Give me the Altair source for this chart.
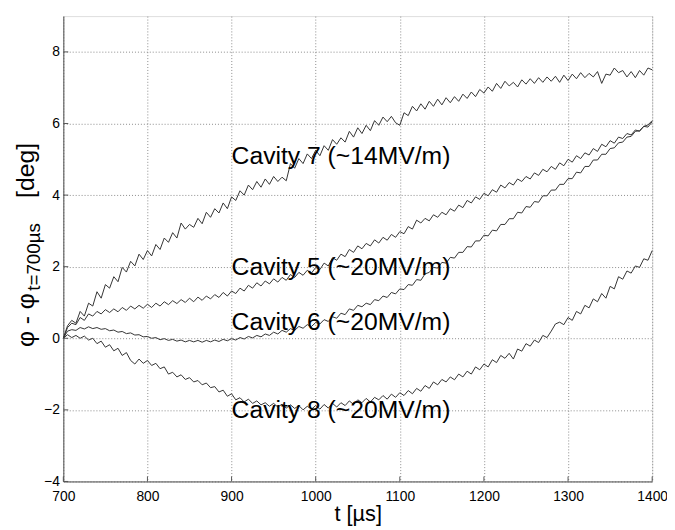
import altair as alt
import pandas as pd

# sample times [µs]
t_start, t_end, t_step = 700, 1400, 5

cav7 = [0.00, 0.35, 0.50, 0.42, 0.75, 0.62, 0.98, 0.90, 1.30, 1.12,
        1.50, 1.40, 1.72, 1.58, 1.98, 1.85, 2.15, 2.02, 2.35, 2.20,
        2.45, 2.30, 2.62, 2.48, 2.80, 2.68, 2.95, 2.80, 3.22, 3.05,
        3.18, 3.10, 3.35, 3.20, 3.52, 3.38, 3.62, 3.50, 3.78, 3.62,
        3.95, 3.85, 4.12, 4.00, 4.28, 4.15, 4.38, 4.22, 4.45, 4.30,
        4.52, 4.38, 4.50, 4.40, 4.88, 4.75, 5.02, 4.88, 5.15, 5.02,
        5.25, 5.10, 5.38, 5.25, 5.55, 5.42, 5.60, 5.48, 5.78, 5.62,
        5.88, 5.72, 5.95, 5.80, 6.08, 5.95, 6.18, 6.05, 6.20, 6.02,
        5.95, 6.30, 6.22, 6.48, 6.35, 6.55, 6.40, 6.62, 6.48, 6.68,
        6.52, 6.72, 6.58, 6.75, 6.62, 6.82, 6.70, 6.88, 6.75, 6.95,
        6.85, 7.02, 6.90, 7.12, 6.98, 7.18, 7.05, 7.15, 7.02, 7.22,
        7.10, 7.25, 7.12, 7.28, 7.15, 7.30, 7.18, 7.32, 7.15, 7.35,
        7.20, 7.38, 7.25, 7.42, 7.28, 7.40, 7.30, 7.45, 7.12, 7.38,
        7.35, 7.55, 7.42, 7.48, 7.30, 7.45, 7.28, 7.48, 7.35, 7.55,
        7.50]

cav5 = [0.00, 0.30, 0.42, 0.38, 0.58, 0.50, 0.68, 0.62, 0.75, 0.68,
        0.80, 0.72, 0.82, 0.74, 0.86, 0.78, 0.90, 0.82, 0.92, 0.84,
        0.95, 0.86, 0.98, 0.90, 1.02, 0.94, 1.05, 0.97, 1.08, 1.00,
        1.12, 1.02, 1.15, 1.06, 1.18, 1.10, 1.22, 1.14, 1.28, 1.18,
        1.32, 1.25, 1.40, 1.32, 1.48, 1.40, 1.55, 1.46, 1.60, 1.52,
        1.66, 1.57, 1.70, 1.62, 1.78, 1.70, 1.84, 1.76, 1.90, 1.82,
        1.98, 1.92, 2.10, 2.02, 2.25, 2.18, 2.35, 2.28, 2.48, 2.40,
        2.58, 2.50, 2.65, 2.58, 2.75, 2.66, 2.82, 2.74, 2.90, 2.82,
        2.98, 2.92, 3.12, 3.05, 3.30, 3.22, 3.35, 3.28, 3.45, 3.38,
        3.52, 3.45, 3.62, 3.55, 3.72, 3.65, 3.85, 3.78, 3.95, 3.88,
        4.05, 3.98, 4.15, 4.08, 4.28, 4.20, 4.35, 4.28, 4.45, 4.38,
        4.52, 4.45, 4.62, 4.55, 4.72, 4.65, 4.80, 4.72, 4.90, 4.82,
        5.00, 4.92, 5.10, 5.02, 5.18, 5.12, 5.30, 5.22, 5.42, 5.35,
        5.52, 5.45, 5.62, 5.58, 5.72, 5.68, 5.82, 5.78, 5.92, 5.90,
        6.05]

cav6 = [0.00, 0.20, 0.24, 0.22, 0.30, 0.26, 0.32, 0.27, 0.30, 0.25,
        0.27, 0.21, 0.23, 0.17, 0.19, 0.13, 0.15, 0.09, 0.10, 0.04,
        0.05, 0.00, 0.02, -0.04, -0.01, -0.06, -0.03, -0.08, -0.05, -0.10,
        -0.06, -0.10, -0.06, -0.11, -0.06, -0.10, -0.05, -0.09, -0.03, -0.07,
        -0.01, -0.05, 0.02, -0.02, 0.05, 0.01, 0.08, 0.04, 0.12, 0.08,
        0.17, 0.12, 0.22, 0.17, 0.27, 0.22, 0.33, 0.28, 0.38, 0.33,
        0.44, 0.40, 0.52, 0.47, 0.60, 0.56, 0.70, 0.66, 0.82, 0.78,
        0.92, 0.88, 0.98, 0.94, 1.08, 1.05, 1.18, 1.14, 1.28, 1.24,
        1.38, 1.36, 1.50, 1.48, 1.64, 1.62, 1.80, 1.84, 1.98, 1.96,
        2.12, 2.10, 2.26, 2.24, 2.40, 2.40, 2.56, 2.55, 2.72, 2.72,
        2.88, 2.86, 3.02, 3.00, 3.18, 3.18, 3.34, 3.34, 3.52, 3.50,
        3.68, 3.66, 3.82, 3.80, 3.98, 3.98, 4.14, 4.14, 4.30, 4.30,
        4.46, 4.46, 4.64, 4.62, 4.80, 4.80, 4.98, 4.98, 5.14, 5.14,
        5.30, 5.32, 5.46, 5.48, 5.62, 5.64, 5.78, 5.80, 5.92, 5.96,
        6.08]

cav8 = [0.00, 0.10, 0.02, 0.08, 0.00, 0.06, -0.05, 0.00, -0.15, -0.08,
        -0.25, -0.18, -0.35, -0.28, -0.48, -0.40, -0.62, -0.72, -0.58, -0.70,
        -0.62, -0.76, -0.70, -0.85, -0.80, -1.00, -0.95, -1.08, -1.02, -1.15,
        -1.10, -1.22, -1.18, -1.30, -1.25, -1.38, -1.35, -1.50, -1.45, -1.62,
        -1.55, -1.72, -1.66, -1.78, -1.70, -1.82, -1.75, -1.86, -1.80, -1.90,
        -1.82, -1.92, -1.84, -1.95, -1.86, -1.96, -1.88, -2.00, -1.90, -1.98,
        -1.88, -1.98, -1.85, -1.95, -1.82, -1.92, -1.80, -1.88, -1.75, -1.85,
        -1.72, -1.80, -1.68, -1.78, -1.65, -1.72, -1.60, -1.70, -1.56, -1.65,
        -1.52, -1.60, -1.46, -1.55, -1.40, -1.48, -1.32, -1.40, -1.22, -1.30,
        -1.15, -1.22, -1.08, -1.16, -1.00, -1.08, -0.92, -1.00, -0.80, -0.88,
        -0.72, -0.80, -0.60, -0.68, -0.48, -0.56, -0.42, -0.58, -0.30, -0.36,
        -0.15, -0.22, -0.05, -0.12, 0.08, 0.02, 0.20, 0.40, 0.45, 0.38,
        0.58, 0.50, 0.75, 0.68, 0.92, 0.85, 1.10, 1.02, 1.25, 1.12,
        1.45, 1.38, 1.72, 1.65, 1.88, 1.82, 2.02, 1.98, 2.22, 2.18,
        2.45]

series = {"Cavity 7": cav7, "Cavity 5": cav5, "Cavity 6": cav6, "Cavity 8": cav8}

label_texts = ["Cavity 7 (~14MV/m)", "Cavity 5 (~20MV/m)",
               "Cavity 6 (~20MV/m)", "Cavity 8 (~20MV/m)"]
label_t = [900, 900, 900, 900]
label_v = [5.1, 2.0, 0.45, -2.0]

x_ticks = [700, 800, 900, 1000, 1100, 1200, 1300, 1400]
y_ticks = [-4, -2, 0, 2, 4, 6, 8]
x_domain = [700, 1400]
y_domain = [-4, 9]

times = list(range(t_start, t_end + 1, t_step))
rows = []
for name, vals in series.items():
    assert len(vals) == len(times), (name, len(vals))
    for t, v in zip(times, vals):
        rows.append({"t": t, "v": v, "series": name})
df = pd.DataFrame(rows)
labels_df = pd.DataFrame({"t": label_t, "v": label_v, "text": label_texts})

W, H = 596, 471
FONT = "Liberation Sans"

xs = alt.Scale(domain=x_domain, nice=False, zero=False)
ys = alt.Scale(domain=y_domain, nice=False, zero=False)

x_axis = alt.Axis(values=x_ticks, format="d", title="t [µs]", grid=True,
                  gridDash=[1, 2], gridColor="#8a8a8a", gridWidth=1,
                  ticks=False, domainColor="#555555",
                  labelFont=FONT, labelFontSize=14, labelColor="#000000",
                  labelPadding=8, labelFlush=False, labelOverlap=False,
                  titleFont=FONT, titleFontSize=22, titleFontWeight="normal",
                  titleColor="#000000", titlePadding=1)
y_axis = alt.Axis(values=y_ticks, format="d", title="", grid=True,
                  gridDash=[1, 2], gridColor="#8a8a8a", gridWidth=1,
                  ticks=False, domainColor="#555555",
                  labelFont=FONT, labelFontSize=14, labelColor="#000000",
                  labelPadding=4, labelFlush=False, labelOverlap=False)

lines = alt.Chart(df).mark_line(color="#333333", strokeWidth=1).encode(
    x=alt.X("t:Q", scale=xs, axis=x_axis),
    y=alt.Y("v:Q", scale=ys, axis=y_axis),
    detail="series:N",
)

ytick_df = pd.DataFrame({"v": y_ticks})
xtick_df = pd.DataFrame({"t": x_ticks})

yticks = alt.Chart(ytick_df).mark_rule(color="#555555", strokeWidth=1).encode(
    y=alt.Y("v:Q", scale=ys, axis=y_axis),
    x=alt.value(0), x2=alt.value(5),
)
xticks = alt.Chart(xtick_df).mark_rule(color="#555555", strokeWidth=1).encode(
    x=alt.X("t:Q", scale=xs, axis=x_axis),
    y=alt.value(H), y2=alt.value(H - 5),
)

labels = alt.Chart(labels_df).mark_text(
    align="left", baseline="middle", font=FONT, fontSize=25, color="#000000"
).encode(
    x=alt.X("t:Q", scale=xs, axis=x_axis),
    y=alt.Y("v:Q", scale=ys, axis=y_axis),
    text="text:N",
)

one = alt.Data(values=[{"a": 1}])
ytitle_main = alt.Chart(one).mark_text(
    text="φ - φ", angle=270, align="left", baseline="alphabetic",
    font=FONT, fontSize=25, color="#000000"
).encode(x=alt.value(-30), y=alt.value(335))
ytitle_sub = alt.Chart(one).mark_text(
    text="t=700µs", angle=270, align="left", baseline="alphabetic",
    font=FONT, fontSize=19, color="#000000"
).encode(x=alt.value(-24), y=alt.value(278))
ytitle_unit = alt.Chart(one).mark_text(
    text="[deg]", angle=270, align="left", baseline="alphabetic",
    font=FONT, fontSize=25, color="#000000"
).encode(x=alt.value(-30), y=alt.value(184))

chart = alt.layer(
    lines, yticks, xticks, labels, ytitle_main, ytitle_sub, ytitle_unit
).properties(
    width=W, height=H,
    autosize=alt.AutoSizeParams(type="none"),
    padding={"left": 56, "top": 5, "right": 15, "bottom": 52},
).configure_view(stroke=None).configure(background="#ffffff")

chart.save("out.html", embed_options={"renderer": "svg", "actions": False})
